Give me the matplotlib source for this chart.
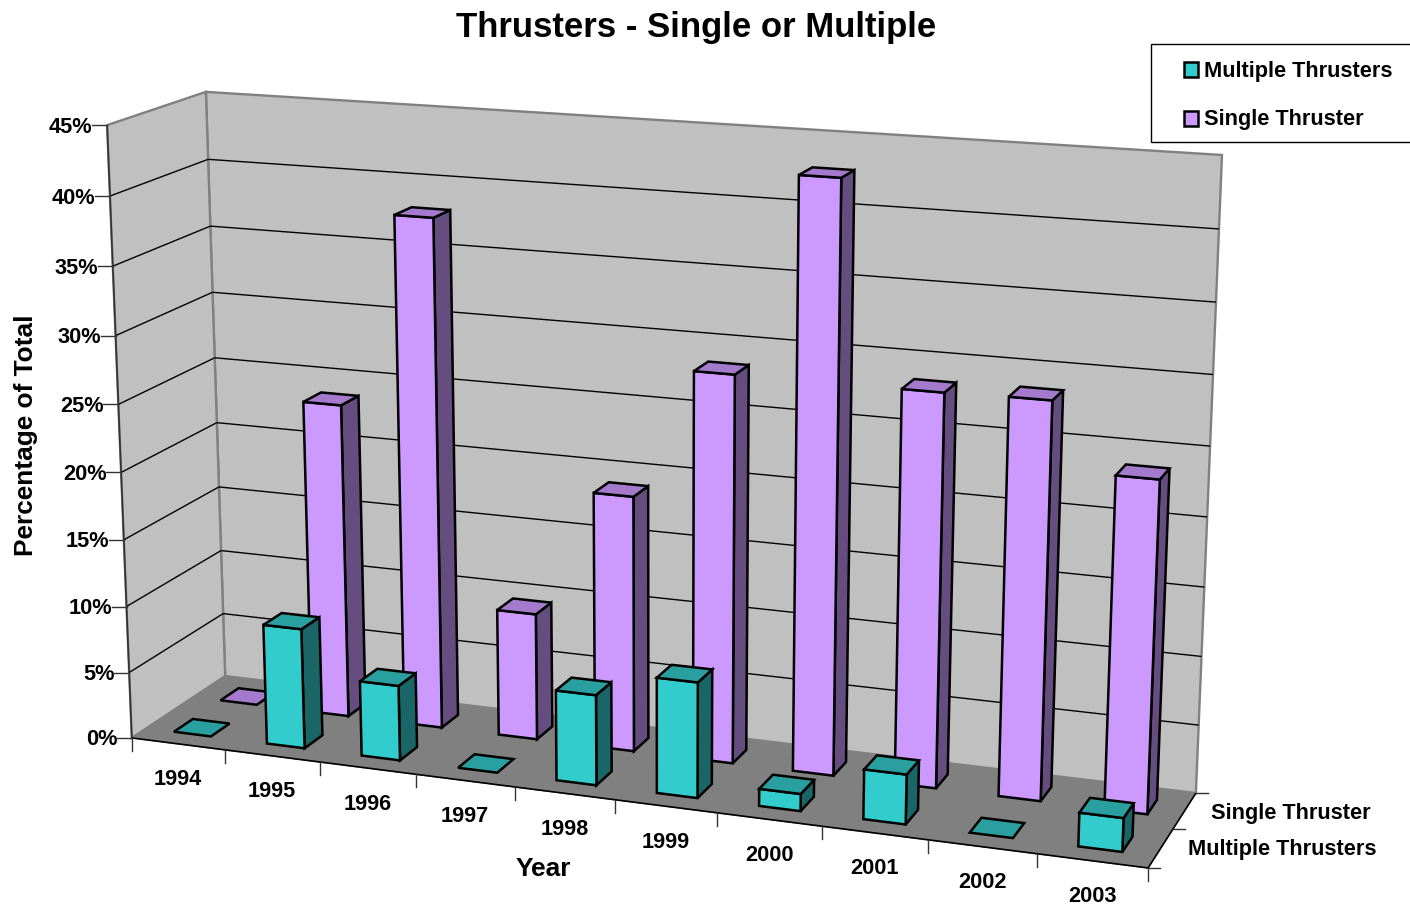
import numpy as np
import matplotlib
matplotlib.use("Agg")
import matplotlib.pyplot as plt
from matplotlib.patches import Polygon, Rectangle

years = ['1994','1995','1996','1997','1998','1999','2000','2001','2002','2003']
series_names = ['Multiple Thrusters', 'Single Thruster']
multiple = [0.0, 9.0, 5.6, 0.0, 6.65, 8.45, 1.25, 3.6, 0.0, 2.4]
single = [0.0, 23.7, 38.0, 9.5, 19.0, 28.5, 42.8, 28.5, 28.6, 23.8]
z_ticks = [0,5,10,15,20,25,30,35,40,45]

plt.rcParams['font.family'] = ['Liberation Sans', 'DejaVu Sans']
fig = plt.figure(figsize=(14.1, 9.06), dpi=100)
ax = fig.add_axes([0,0,1,1])
ax.set_xlim(0,1410); ax.set_ylim(906,0); ax.axis('off')

# camera: projective map fitted to the frame corners of the box
nc = len(years); zmax = 45.0
world = [(0,0,0),(0,1,0),(nc,1,0),(nc,0,0),(0,0,zmax),(0,1,zmax),(nc,1,zmax)]
screen = [(132,738),(225,676),(1196,793),(1148,868),(107,125),(206,92),(1222,155)]
A=[];b=[]
for (x,y,z),(u,v) in zip(world,screen):
    A.append([x,y,z,1,0,0,0,0,-u*x,-u*y,-u*z]); b.append(u)
    A.append([0,0,0,0,x,y,z,1,-v*x,-v*y,-v*z]); b.append(v)
sol = np.linalg.lstsq(np.array(A,float),np.array(b,float),rcond=None)[0]
P = np.append(sol,1.0).reshape(3,4)
def pr(x,y,z):
    w = P @ np.array([x,y,z,1.0])
    return (w[0]/w[2], w[1]/w[2])
def face(pts, fc, ec='black', lw=1.8, zo=1):
    ax.add_patch(Polygon([pr(*p) for p in pts], closed=True, fc=fc, ec=ec, lw=lw, zorder=zo, joinstyle='miter'))
def seg(p,q,c='black',lw=1.0,zo=2):
    a,b_=pr(*p),pr(*q)
    ax.plot([a[0],b_[0]],[a[1],b_[1]],color=c,lw=lw,zorder=zo,solid_capstyle='butt')

# walls and floor
face([(0,1,0),(nc,1,0),(nc,1,zmax),(0,1,zmax)],'#C0C0C0','#808080',1.7)
face([(0,0,0),(0,1,0),(0,1,zmax),(0,0,zmax)],'#C0C0C0','#808080',1.7)
face([(0,0,0),(nc,0,0),(nc,1,0),(0,1,0)],'#808080','#808080',1)
for z in z_ticks[1:-1]:
    seg((0,0,z),(0,1,z),'black',1.0,zo=2)
    seg((0,1,z),(nc,1,z),'black',1.0,zo=2)
seg((0,0,0),(0,0,zmax),'#333333',1.2,zo=3)
seg((0,0,0),(nc,0,0),'black',1.2,zo=3)
seg((nc,0,0),(nc,1,0),'black',1.2,zo=3)

# ticks and labels
for z in z_ticks:
    u,v = pr(0,0,z)
    ax.plot([u-15,u],[v,v],color='#333333',lw=1.0,zorder=3)
    ax.text(u-14.5,v+2,f'{z}%',ha='right',va='center',fontsize=15.7,fontweight='bold',color='black')
for i in range(nc+1):
    u,v = pr(i,0,0)
    ax.plot([u,u],[v,v+13],color='#333333',lw=1.0,zorder=3)
for i,y in enumerate(years):
    u,v = pr(i+.5,0,0)
    ax.text(u,v+36,y,ha='center',va='center',fontsize=15.7,fontweight='bold')
for j in range(3):
    u,v = pr(nc,j/2,0)
    ax.plot([u,u+12],[v,v],color='#333333',lw=1.0,zorder=3)
for j,(n,cx,cy) in enumerate(zip(series_names,[1282,1291],[850,813.5])):
    ax.text(cx,cy,n,ha='center',va='center',fontsize=15.7,fontweight='bold')

# bars
gapx=0.30; gapy=0.30
front={'Multiple Thrusters':('#33CCCC','#1A6666','#299F9F'),'Single Thruster':('#CC99FF','#664D80','#A37ACC')}
def bar(i,j,val,cols,zo):
    x0,x1=i+gapx,i+1-gapx
    y0,y1=(j+gapy)/2,(j+1-gapy)/2
    f,s,t=cols
    if val>0:
        face([(x1,y0,0),(x1,y1,0),(x1,y1,val),(x1,y0,val)],s,zo=zo)
        face([(x0,y0,0),(x1,y0,0),(x1,y0,val),(x0,y0,val)],f,zo=zo)
    face([(x0,y0,val),(x1,y0,val),(x1,y1,val),(x0,y1,val)],t,zo=zo)
for j,(name,vals) in reversed(list(enumerate(zip(series_names,[multiple,single])))):
    for i,val in enumerate(vals):
        bar(i,j,val,front[name],10+(1-j)*20+i)

# text
ax.text(696,27,'Thrusters - Single or Multiple',ha='center',va='center',fontsize=25,fontweight='bold')
ax.text(543,869,'Year',ha='center',va='center',fontsize=19,fontweight='bold')
ax.text(26,435,'Percentage of Total',ha='center',va='center',rotation=90,fontsize=18.9,fontweight='bold')

# legend
ax.add_patch(Rectangle((1151,44),300,98,fc='white',ec='black',lw=1.0,zorder=50,clip_on=True))
for n,yy in zip(series_names,[69.5,118.5]):
    ax.add_patch(Rectangle((1184,yy-7.5),14,15,fc=front[n][0],ec='black',lw=1.8,zorder=51))
    ax.text(1204,yy+1.5,n,ha='left',va='center',fontsize=15.7,fontweight='bold',zorder=51)
fig.savefig('out.png',dpi=100)
